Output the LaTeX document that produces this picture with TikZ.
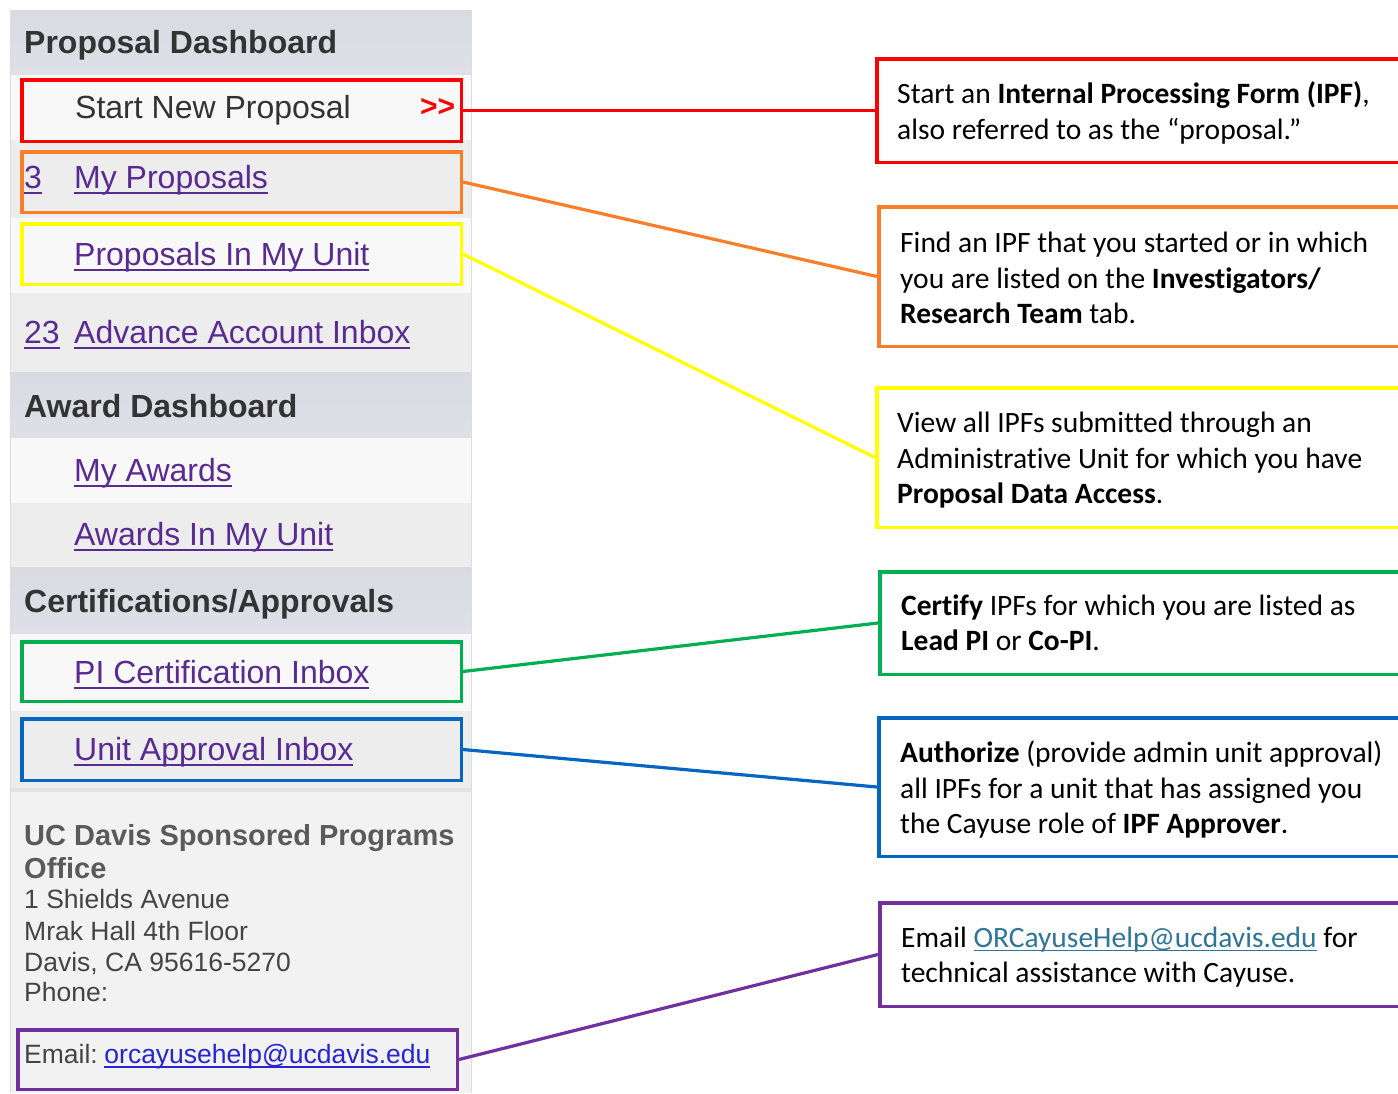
\documentclass[tikz,border=0pt]{standalone}
\usepackage{fontspec}
\setmainfont{Carlito}[Ligatures={TeX,NoCommon}]
\newfontfamily\webfont{Liberation Sans}

% colours of the portal menu
\definecolor{rowA}{HTML}{F8F8F8}
\definecolor{rowB}{HTML}{EDEDED}
\definecolor{footBg}{HTML}{F2F2F2}
\definecolor{footRule}{HTML}{E2E2E2}
\definecolor{hdrA}{HTML}{D9DAE2}
\definecolor{hdrB}{HTML}{E6E7EE}
\definecolor{hdrC}{HTML}{DFE0E7}
\definecolor{panelEdge}{HTML}{DDDDDD}
\definecolor{hdrText}{HTML}{333333}
\definecolor{footHead}{HTML}{5A5A5A}
\definecolor{footText}{HTML}{444444}
\definecolor{visited}{HTML}{5A2A93}
\definecolor{weblink}{HTML}{2525D5}
\definecolor{doclink}{HTML}{2E7599}
% highlight colours
\definecolor{cRed}{HTML}{FF0000}
\definecolor{cOrange}{HTML}{F97E2A}
\definecolor{cYellow}{HTML}{FFFF00}
\definecolor{cGreen}{HTML}{00B050}
\definecolor{cBlue}{HTML}{0566C2}
\definecolor{cPurple}{HTML}{7030A0}

% underlined link text
\newcommand\ulink[1]{\setbox0\hbox{#1}\rlap{\rule[-0.19em]{\wd0}{0.07em}}\box0}
\newcommand\dlink[1]{\setbox0\hbox{#1}\rlap{\rule[-0.14em]{\wd0}{0.05em}}\box0}

\tikzset{
  webtxt/.style={font=\webfont\fontsize{32}{38}\selectfont, anchor=base west, inner sep=0pt},
  weblink/.style={webtxt, text=visited},
  webhead/.style={font=\webfont\bfseries\fontsize{32}{38}\selectfont, text=hdrText, anchor=base west, inner sep=0pt},
  foothead/.style={font=\webfont\bfseries\fontsize{29}{33}\selectfont, text=footHead, anchor=base west, inner sep=0pt},
  foottxt/.style={font=\webfont\fontsize{26.5}{30}\selectfont, text=footText, anchor=base west, inner sep=0pt},
  note/.style={font=\fontsize{29.5}{36}\selectfont, text=black, anchor=base west, inner sep=0pt},
  hlbox/.style={draw=#1, line width=3.5pt, minimum width=439.5pt, inner sep=0pt},
  callbox/.style={draw=#1, line width=3.5pt, inner sep=0pt},
  link/.style={draw=#1, line width=3.2pt},
  hdrfill/.style={top color=hdrA, middle color=hdrB, bottom color=hdrC},
}

\begin{document}
\begin{tikzpicture}[x=1pt, y=-1pt]
\useasboundingbox (0,0) rectangle (1398,1093);
\clip (0,0) rectangle (1398,1093);
\fill[white] (0,0) rectangle (1398,1093);

% menu panel backgrounds
\shade[hdrfill] (10,10) rectangle (471,75);
\fill[rowA] (10,75) rectangle (471,140);
\fill[rowB] (10,140) rectangle (471,218);
\fill[rowA] (10,218) rectangle (471,293);
\fill[rowB] (10,293) rectangle (471,372);
\shade[hdrfill] (10,372) rectangle (471,438);
\fill[rowA] (10,438) rectangle (471,503);
\fill[rowB] (10,503) rectangle (471,567);
\shade[hdrfill] (10,567) rectangle (471,634);
\fill[rowA] (10,634) rectangle (471,711);
\fill[rowB] (10,711) rectangle (471,788);
\fill[footRule] (10,788) rectangle (471,792);
\fill[footBg] (10,792) rectangle (471,1093);
\draw[panelEdge, line width=1.5pt] (10.5,10) -- (10.5,1093);
\draw[panelEdge, line width=1.5pt] (471.5,10) -- (471.5,1093);

% menu texts
\node[webhead] (hProp) at (24,53) {Proposal Dashboard};
\node[webtxt, text=hdrText] (tStart) at (75,118) {Start New Proposal};
\node[font=\webfont\bfseries\fontsize{30}{36}\selectfont, text=cRed, anchor=base west, inner sep=0pt] (tArrow) at (420,116) {>>};
\node[weblink] (nMy) at (24,188) {\ulink{3}};
\node[weblink] (tMy) at (74,188) {\ulink{My Proposals}};
\node[weblink] (tUnit) at (74,265) {\ulink{Proposals In My Unit}};
\node[weblink] (nAdv) at (24,343) {\ulink{23}};
\node[weblink] (tAdv) at (74,343) {\ulink{Advance Account Inbox}};
\node[webhead] (hAward) at (24,417) {Award Dashboard};
\node[weblink] (tAw) at (74,481) {\ulink{My Awards}};
\node[weblink] (tAwU) at (74,545) {\ulink{Awards In My Unit}};
\node[webhead] (hCert) at (24,612) {Certifications/Approvals};
\node[weblink] (tPI) at (74,683) {\ulink{PI Certification Inbox}};
\node[weblink] (tUA) at (74,760) {\ulink{Unit Approval Inbox}};

% contact block
\node[foothead] (fA) at (24,845) {UC Davis Sponsored Programs};
\node[foothead] (fB) at (24,878) {Office};
\node[foottxt] (fC) at (24,908) {1 Shields Avenue};
\node[foottxt] (fD) at (24,940) {Mrak Hall 4th Floor};
\node[foottxt] (fE) at (24,971) {Davis, CA 95616-5270};
\node[foottxt] (fF) at (24,1001) {Phone:};
\node[foottxt] (fG) at (24,1063) {Email:\hspace{0.25em}\textcolor{weblink}{\ulink{orcayusehelp@ucdavis.edu}}};

% highlight frames on the menu
\node[hlbox=cRed, minimum height=61.5pt] (lRed) at (241.5,110.5) {};
\node[hlbox=cOrange, minimum height=60.5pt] (lOrange) at (241.5,182) {};
\node[hlbox=cYellow, minimum height=60.5pt] (lYellow) at (241.5,254) {};
\node[hlbox=cGreen, minimum height=59.5pt] (lGreen) at (241.5,671.5) {};
\node[hlbox=cBlue, minimum height=61.5pt] (lBlue) at (241.5,749.5) {};
\node[hlbox=cPurple, minimum height=59.5pt] (lPurple) at (237.5,1059.5) {};

% explanation boxes
\node[callbox=cRed, minimum width=553.25pt, minimum height=103.5pt] (cRedB) at (1153.4,110.5) {};
\node[callbox=cOrange, minimum width=551.25pt, minimum height=139.5pt] (cOrangeB) at (1154.4,276.5) {};
\node[callbox=cYellow, minimum width=553.25pt, minimum height=139.5pt] (cYellowB) at (1153.4,457.5) {};
\node[callbox=cGreen, minimum width=550.25pt, minimum height=102.5pt] (cGreenB) at (1154.9,623) {};
\node[callbox=cBlue, minimum width=551.25pt, minimum height=138.5pt] (cBlueB) at (1154.4,787) {};
\node[callbox=cPurple, minimum width=550.25pt, minimum height=103.5pt] (cPurpleB) at (1154.9,954.5) {};

% connectors
\draw[link=cRed] (lRed.east) -- (cRedB.west);
\draw[link=cOrange] (lOrange.east) -- (cOrangeB.west);
\draw[link=cYellow] (lYellow.east) -- (cYellowB.west);
\draw[link=cGreen] (lGreen.east) -- (cGreenB.west);
\draw[link=cBlue] (lBlue.east) -- (cBlueB.west);
\draw[link=cPurple] (lPurple.east) -- (cPurpleB.west);

% explanation texts
\node[note] (r1) at (897,103) {Start an \textbf{Internal Processing Form (IPF)},};
\node[note] (r2) at (897,139) {also referred to as the “proposal.”};
\node[note] (o1) at (900,252) {Find an IPF that you started or in which};
\node[note] (o2) at (900,288) {you are listed on the \textbf{Investigators/}};
\node[note] (o3) at (900,323) {\textbf{Research Team} tab.};
\node[note] (y1) at (897,432) {View all IPFs submitted through an};
\node[note] (y2) at (897,468) {Administrative Unit for which you have};
\node[note] (y3) at (897,503) {\textbf{Proposal Data Access}.};
\node[note] (g1) at (901,615) {\textbf{Certify} IPFs for which you are listed as};
\node[note] (g2) at (901,650) {\textbf{Lead PI} or \textbf{Co-PI}.};
\node[note] (b1) at (900,762) {\textbf{Authorize} (provide admin unit approval)};
\node[note] (b2) at (900,798) {all IPFs for a unit that has assigned you};
\node[note] (b3) at (900,833) {the Cayuse role of \textbf{IPF Approver}.};
\node[note] (p1) at (901,947) {Email \textcolor{doclink}{\dlink{ORCayuseHelp@ucdavis.edu}} for};
\node[note] (p2) at (901,982) {technical assistance with Cayuse.};
\end{tikzpicture}
\end{document}
